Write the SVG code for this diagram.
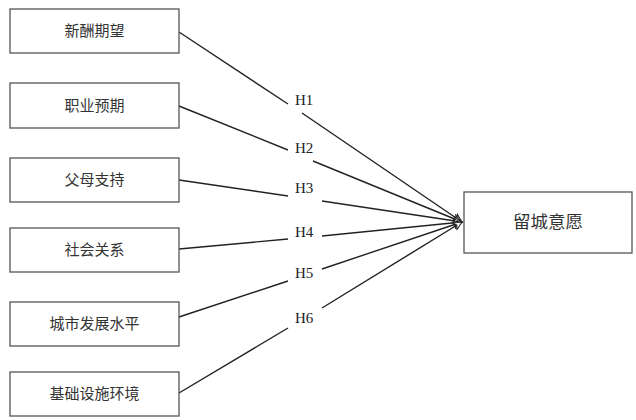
<svg xmlns="http://www.w3.org/2000/svg" width="636" height="420" viewBox="0 0 636 420">
<style>
.box{fill:#fff;stroke:#555;stroke-width:1.3}
.lbl{font-family:"Liberation Serif","Noto Sans CJK SC",serif;font-size:15px;fill:#333;text-anchor:middle;dominant-baseline:central}
.big{font-size:17.5px}
.h{font-family:"Liberation Serif",serif;font-size:15px;fill:#222}
.c{stroke:#222;stroke-width:1.4;fill:none}
</style>
<defs>
<marker id="arr" markerWidth="12" markerHeight="12" refX="9" refY="5" orient="auto" markerUnits="userSpaceOnUse">
<path d="M0.5,1 L9,5 L0.5,9 L3,5 Z" fill="#fff" stroke="#222" stroke-width="1"/>
</marker>
</defs>
<rect width="636" height="420" fill="#fff"/>
<g id="connectors">
<line class="c" x1="179" y1="32" x2="288" y2="104"/>
<line class="c" x1="302" y1="113" x2="462" y2="222" marker-end="url(#arr)"/>
<line class="c" x1="179" y1="106" x2="288" y2="150"/>
<line class="c" x1="313" y1="161" x2="462" y2="222" marker-end="url(#arr)"/>
<line class="c" x1="179" y1="180" x2="288" y2="196"/>
<line class="c" x1="322" y1="201" x2="462" y2="222" marker-end="url(#arr)"/>
<line class="c" x1="179" y1="249" x2="288" y2="239"/>
<line class="c" x1="322" y1="236" x2="462" y2="222" marker-end="url(#arr)"/>
<line class="c" x1="179" y1="317" x2="288" y2="281"/>
<line class="c" x1="322" y1="269" x2="462" y2="222" marker-end="url(#arr)"/>
<line class="c" x1="179" y1="393" x2="288" y2="328"/>
<line class="c" x1="322" y1="308" x2="462" y2="222" marker-end="url(#arr)"/>
<text class="h" x="295" y="105">H1</text>
<text class="h" x="295" y="153">H2</text>
<text class="h" x="295" y="193">H3</text>
<text class="h" x="295" y="237">H4</text>
<text class="h" x="295" y="278">H5</text>
<text class="h" x="295" y="323">H6</text>
</g>
<g id="n1"><rect class="box" x="10" y="9" width="169" height="44"/><text class="lbl" x="94.5" y="31">新酬期望</text></g>
<g id="n2"><rect class="box" x="10" y="83" width="169" height="45"/><text class="lbl" x="94.5" y="105.5">职业预期</text></g>
<g id="n3"><rect class="box" x="10" y="158" width="169" height="44"/><text class="lbl" x="94.5" y="180">父母支持</text></g>
<g id="n4"><rect class="box" x="10" y="228" width="169" height="44"/><text class="lbl" x="94.5" y="250">社会关系</text></g>
<g id="n5"><rect class="box" x="10" y="302" width="169" height="44"/><text class="lbl" x="94.5" y="324">城市发展水平</text></g>
<g id="n6"><rect class="box" x="10" y="372" width="169" height="44"/><text class="lbl" x="94.5" y="394">基础设施环境</text></g>
<g id="target"><rect class="box" x="464" y="192" width="168" height="61"/><text class="lbl big" x="548" y="222">留城意愿</text></g>
</svg>
